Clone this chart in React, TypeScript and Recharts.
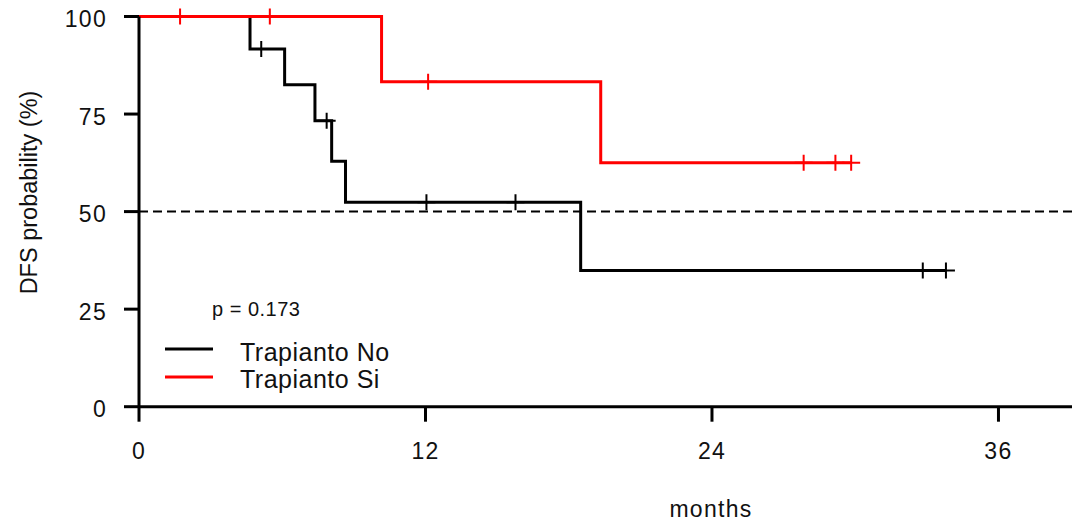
import React from 'react';
import { ComposedChart, Line, XAxis, YAxis, ReferenceLine, Legend } from 'recharts';

// Kaplan-Meier steps (months, DFS %)
const noTimes = [0, 4.65, 6.1, 7.37, 8.07, 8.65, 18.5, 33.8];
const noSurv = [100, 91.7, 82.5, 73.3, 62.9, 52.4, 34.9, 34.9];
const siTimes = [0, 10.16, 19.34, 29.83];
const siSurv = [100, 83.3, 62.5, 62.5];

// censored patients
const noCensorTimes = [5.12, 7.86, 12.04, 15.77, 32.83, 33.8];
const noCensorSurv = [91.7, 73.3, 52.4, 52.4, 34.9, 34.9];
const siCensorTimes = [1.72, 5.48, 12.11, 27.84, 29.17, 29.83];
const siCensorSurv = [100, 100, 83.3, 62.5, 62.5, 62.5];

const xTicks = [0, 12, 24, 36];
const yTicks = [0, 25, 50, 75, 100];
const pValue = 'p = 0.173';

const toRows = (t: number[], s: number[]) => t.map((v, i) => ({ t: v, s: s[i] }));

const noCurve = toRows(noTimes, noSurv);
const siCurve = toRows(siTimes, siSurv);
const noCensors = toRows(noCensorTimes, noCensorSurv);
const siCensors = toRows(siCensorTimes, siCensorSurv);

const FONT = '"Liberation Sans", Arial, sans-serif';
const INK = '#111';

const censorMark = (color: string) => (props: any) => {
  const { cx, cy, index } = props;
  if (cx == null || cy == null) return <g key={`c-${index}`} />;
  return (
    <path
      key={`c-${color}-${index}`}
      d={`M${cx - 9},${cy}H${cx + 9}M${cx},${cy - 8}V${cy + 8}`}
      stroke={color}
      strokeWidth={2}
      fill="none"
    />
  );
};

const XTick = ({ x, y, payload }: any) => (
  <text x={x} y={y + 37} textAnchor="middle" fontSize={23} letterSpacing={1.3} fill={INK} fontFamily={FONT}>
    {payload.value}
  </text>
);

const YTick = ({ x, y, payload }: any) => (
  <text x={x - 17} y={y + 10.5} textAnchor="end" fontSize={23} letterSpacing={1.3} fill={INK} fontFamily={FONT}>
    {payload.value}
  </text>
);

const LegendBox = ({ payload }: any) => {
  const items = (payload || []).filter((p: any) => p.type !== 'none');
  return (
    <svg width={1072} height={522} style={{ position: 'absolute', left: 0, top: 0 }}>
      <text x={212} y={316} fontSize={20} letterSpacing={0.5} fill={INK} fontFamily={FONT}>
        {pValue}
      </text>
      {items.map((it: any, i: number) => (
        <g key={`lg-${i}`}>
          <line x1={165} x2={213} y1={349 + i * 28} y2={349 + i * 28} stroke={it.color} strokeWidth={3} />
          <text x={240} y={361 + i * 27} fontSize={25} letterSpacing={0.5} fill={INK} fontFamily={FONT}>
            {it.value}
          </text>
        </g>
      ))}
    </svg>
  );
};

const App = () => {
  return (
    <div style={{ position: 'absolute', left: 0, top: 0, width: 1072, height: 522, background: '#fff' }}>
      <ComposedChart width={1072} height={522} margin={{ top: 16.5, right: 0, bottom: 0, left: 0 }}>
        <XAxis
          dataKey="t"
          type="number"
          domain={[0, 39.08]}
          allowDataOverflow
          ticks={xTicks}
          height={115.3}
          tickSize={15}
          tickMargin={0}
          axisLine={{ stroke: '#000', strokeWidth: 3 }}
          tickLine={{ stroke: '#000', strokeWidth: 3 }}
          tick={<XTick />}
          label={{
            content: () => (
              <text x={711} y={517} textAnchor="middle" fontSize={23} letterSpacing={1.3} fill={INK} fontFamily={FONT}>
                months
              </text>
            ),
          }}
        />
        <YAxis
          type="number"
          domain={[0, 100]}
          ticks={yTicks}
          width={139}
          tickSize={15}
          tickMargin={0}
          axisLine={{ stroke: '#000', strokeWidth: 3 }}
          tickLine={{ stroke: '#000', strokeWidth: 3 }}
          tick={<YTick />}
          label={{
            content: () => (
              <text
                x={36.5}
                y={192.5}
                transform="rotate(-90, 36.5, 192.5)"
                textAnchor="middle"
                fontSize={23.5}
                fill={INK}
                fontFamily={FONT}
              >
                DFS probability (%)
              </text>
            ),
          }}
        />
        <ReferenceLine y={50} stroke="#000" strokeWidth={2} strokeDasharray="9 5" />
        <Line
          data={noCurve}
          dataKey="s"
          name="Trapianto No"
          type="stepAfter"
          stroke="#000"
          strokeWidth={3}
          dot={false}
          activeDot={false}
          isAnimationActive={false}
        />
        <Line
          data={siCurve}
          dataKey="s"
          name="Trapianto Si"
          type="stepAfter"
          stroke="#ff0000"
          strokeWidth={3}
          dot={false}
          activeDot={false}
          isAnimationActive={false}
        />
        <Line
          data={noCensors}
          dataKey="s"
          name="censor-no"
          legendType="none"
          stroke="none"
          strokeWidth={0}
          dot={censorMark('#000')}
          activeDot={false}
          isAnimationActive={false}
        />
        <Line
          data={siCensors}
          dataKey="s"
          name="censor-si"
          legendType="none"
          stroke="none"
          strokeWidth={0}
          dot={censorMark('#ff0000')}
          activeDot={false}
          isAnimationActive={false}
        />
        <Legend
          layout="vertical"
          align="center"
          verticalAlign="middle"
          wrapperStyle={{ position: 'absolute', left: 0, top: 0, width: 1072, height: 522, pointerEvents: 'none' }}
          content={<LegendBox />}
        />
      </ComposedChart>
    </div>
  );
};

export default App;
